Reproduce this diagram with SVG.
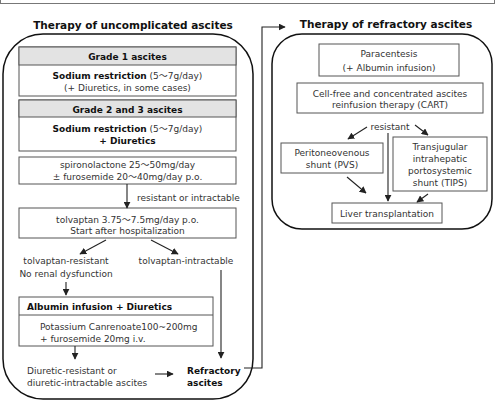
<svg xmlns="http://www.w3.org/2000/svg" width="495" height="401" viewBox="0 0 495 401">
<defs>
<marker id="ah" viewBox="0 0 10 10" refX="9" refY="5" markerWidth="7" markerHeight="7" markerUnits="userSpaceOnUse" orient="auto">
<path d="M0,0 L10,5 L0,10 z" fill="#222"/>
</marker>
<style>
text{font-family:"DejaVu Sans","Noto Sans CJK JP",sans-serif;font-size:9px;fill:#333}
.t{font-size:10.5px;font-weight:bold;fill:#111;text-anchor:middle}
.c{text-anchor:middle}
.b{font-weight:bold;fill:#111}
.box{fill:#fff;stroke:#555;stroke-width:1}
.hdr{fill:#e3e3e3;stroke:#555;stroke-width:1}
.panel{fill:none;stroke:#111;stroke-width:1.5}
.ln{fill:none;stroke:#222;stroke-width:1.1}
.arr{fill:none;stroke:#222;stroke-width:1.1;marker-end:url(#ah)}
</style>
</defs>
<rect x="0.5" y="-5" width="494" height="8.5" fill="none" stroke="#777" stroke-width="1"/>

<g id="panel-left">
<rect class="panel" x="3" y="34" width="250" height="365" rx="40" ry="40"/>
<text class="t" x="133" y="29">Therapy of uncomplicated ascites</text>
</g>
<g id="panel-right">
<rect class="panel" x="272" y="34" width="220" height="195" rx="30" ry="30"/>
<text class="t" x="386" y="28">Therapy of refractory ascites</text>
</g>

<g id="grade1">
<rect class="box" x="19" y="47" width="217" height="49"/>
<rect class="hdr" x="19" y="47" width="217" height="18"/>
<text class="c b" x="127.5" y="60">Grade 1 ascites</text>
<text class="c" x="127.5" y="79"><tspan class="b">Sodium restriction</tspan> (5～7g/day)</text>
<text class="c" x="127.5" y="91">(+ Diuretics, in some cases)</text>
</g>
<g id="grade23">
<rect class="box" x="19" y="100" width="217" height="51"/>
<rect class="hdr" x="19" y="100" width="217" height="17"/>
<text class="c b" x="127.5" y="113">Grade 2 and 3 ascites</text>
<text class="c" x="127.5" y="132"><tspan class="b">Sodium restriction</tspan> (5～7g/day)</text>
<text class="c b" x="127.5" y="144">+ Diuretics</text>
</g>
<g id="spiro">
<rect class="box" x="19" y="157" width="217" height="27"/>
<text class="c" x="127.5" y="168">spironolactone 25～50mg/day</text>
<text class="c" x="127.5" y="180">± furosemide 20～40mg/day p.o.</text>
</g>
<g id="tolvaptan">
<rect class="box" x="19" y="208" width="217" height="30"/>
<text class="c" x="127.5" y="222.5">tolvaptan 3.75～7.5mg/day p.o.</text>
<text class="c" x="127.5" y="234">Start after hospitalization</text>
</g>
<g id="tolv-resistant">
<text class="c" x="66" y="264">tolvaptan-resistant</text>
<text class="c" x="66" y="277">No renal dysfunction</text>
</g>
<g id="tolv-intractable">
<text class="c" x="186" y="264">tolvaptan-intractable</text>
</g>
<g id="albumin">
<rect class="box" x="19" y="297" width="194" height="49"/>
<line x1="19" y1="315" x2="213" y2="315" stroke="#555" stroke-width="1"/>
<text class="b" x="27" y="310">Albumin infusion + Diuretics</text>
<text x="40" y="330">Potassium Canrenoate100~200mg</text>
<text x="40" y="342">+ furosemide 20mg i.v.</text>
</g>
<g id="diuretic-resistant">
<text x="27" y="374">Diuretic-resistant or</text>
<text x="27" y="386">diuretic-intractable ascites</text>
</g>
<g id="refractory">
<text class="b" x="187" y="374">Refractory</text>
<text class="b" x="187" y="386">ascites</text>
</g>

<g id="paracentesis">
<rect class="box" x="319" y="44" width="140" height="32"/>
<text class="c" x="389" y="56.5">Paracentesis</text>
<text class="c" x="389" y="71">(+ Albumin infusion)</text>
</g>
<g id="cart">
<rect class="box" x="297" y="83" width="186" height="30"/>
<text class="c" x="390" y="96.5">Cell-free and concentrated ascites</text>
<text class="c" x="390" y="108">reinfusion therapy (CART)</text>
</g>
<g id="pvs">
<rect class="box" x="281" y="143" width="102" height="30"/>
<text class="c" x="332" y="156">Peritoneovenous</text>
<text class="c" x="332" y="167.5">shunt (PVS)</text>
</g>
<g id="tips">
<rect class="box" x="393" y="137" width="94" height="54"/>
<text class="c" x="440" y="150">Transjugular</text>
<text class="c" x="440" y="162">intrahepatic</text>
<text class="c" x="440" y="174">portosystemic</text>
<text class="c" x="440" y="185.5">shunt (TIPS)</text>
</g>
<g id="liver">
<rect class="box" x="332" y="203" width="110" height="20"/>
<text class="c" x="387" y="216.5">Liver transplantation</text>
</g>

<g id="connectors">
<line class="arr" x1="127" y1="184" x2="127" y2="208"/>
<text x="137" y="201">resistant or intractable</text>
<line class="arr" x1="106" y1="240" x2="80" y2="254"/>
<line class="arr" x1="151" y1="240" x2="178" y2="254"/>
<line class="arr" x1="66" y1="282" x2="66" y2="295"/>
<line class="arr" x1="221" y1="270" x2="221" y2="358"/>
<line class="arr" x1="75" y1="346" x2="75" y2="359"/>
<line class="arr" x1="155" y1="374" x2="173" y2="374"/>
<polyline class="arr" points="244,368 262,368 262,27 285,27" stroke="#555"/>
<text class="c" x="390" y="129.5">resistant</text>
<line class="arr" x1="367" y1="127" x2="348" y2="139"/>
<line class="arr" x1="415" y1="125" x2="428" y2="135"/>
<line class="arr" x1="388" y1="133" x2="388" y2="201"/>
<line class="arr" x1="347" y1="177" x2="366" y2="193"/>
<line class="arr" x1="428" y1="194" x2="417" y2="202"/>
</g>
</svg>
